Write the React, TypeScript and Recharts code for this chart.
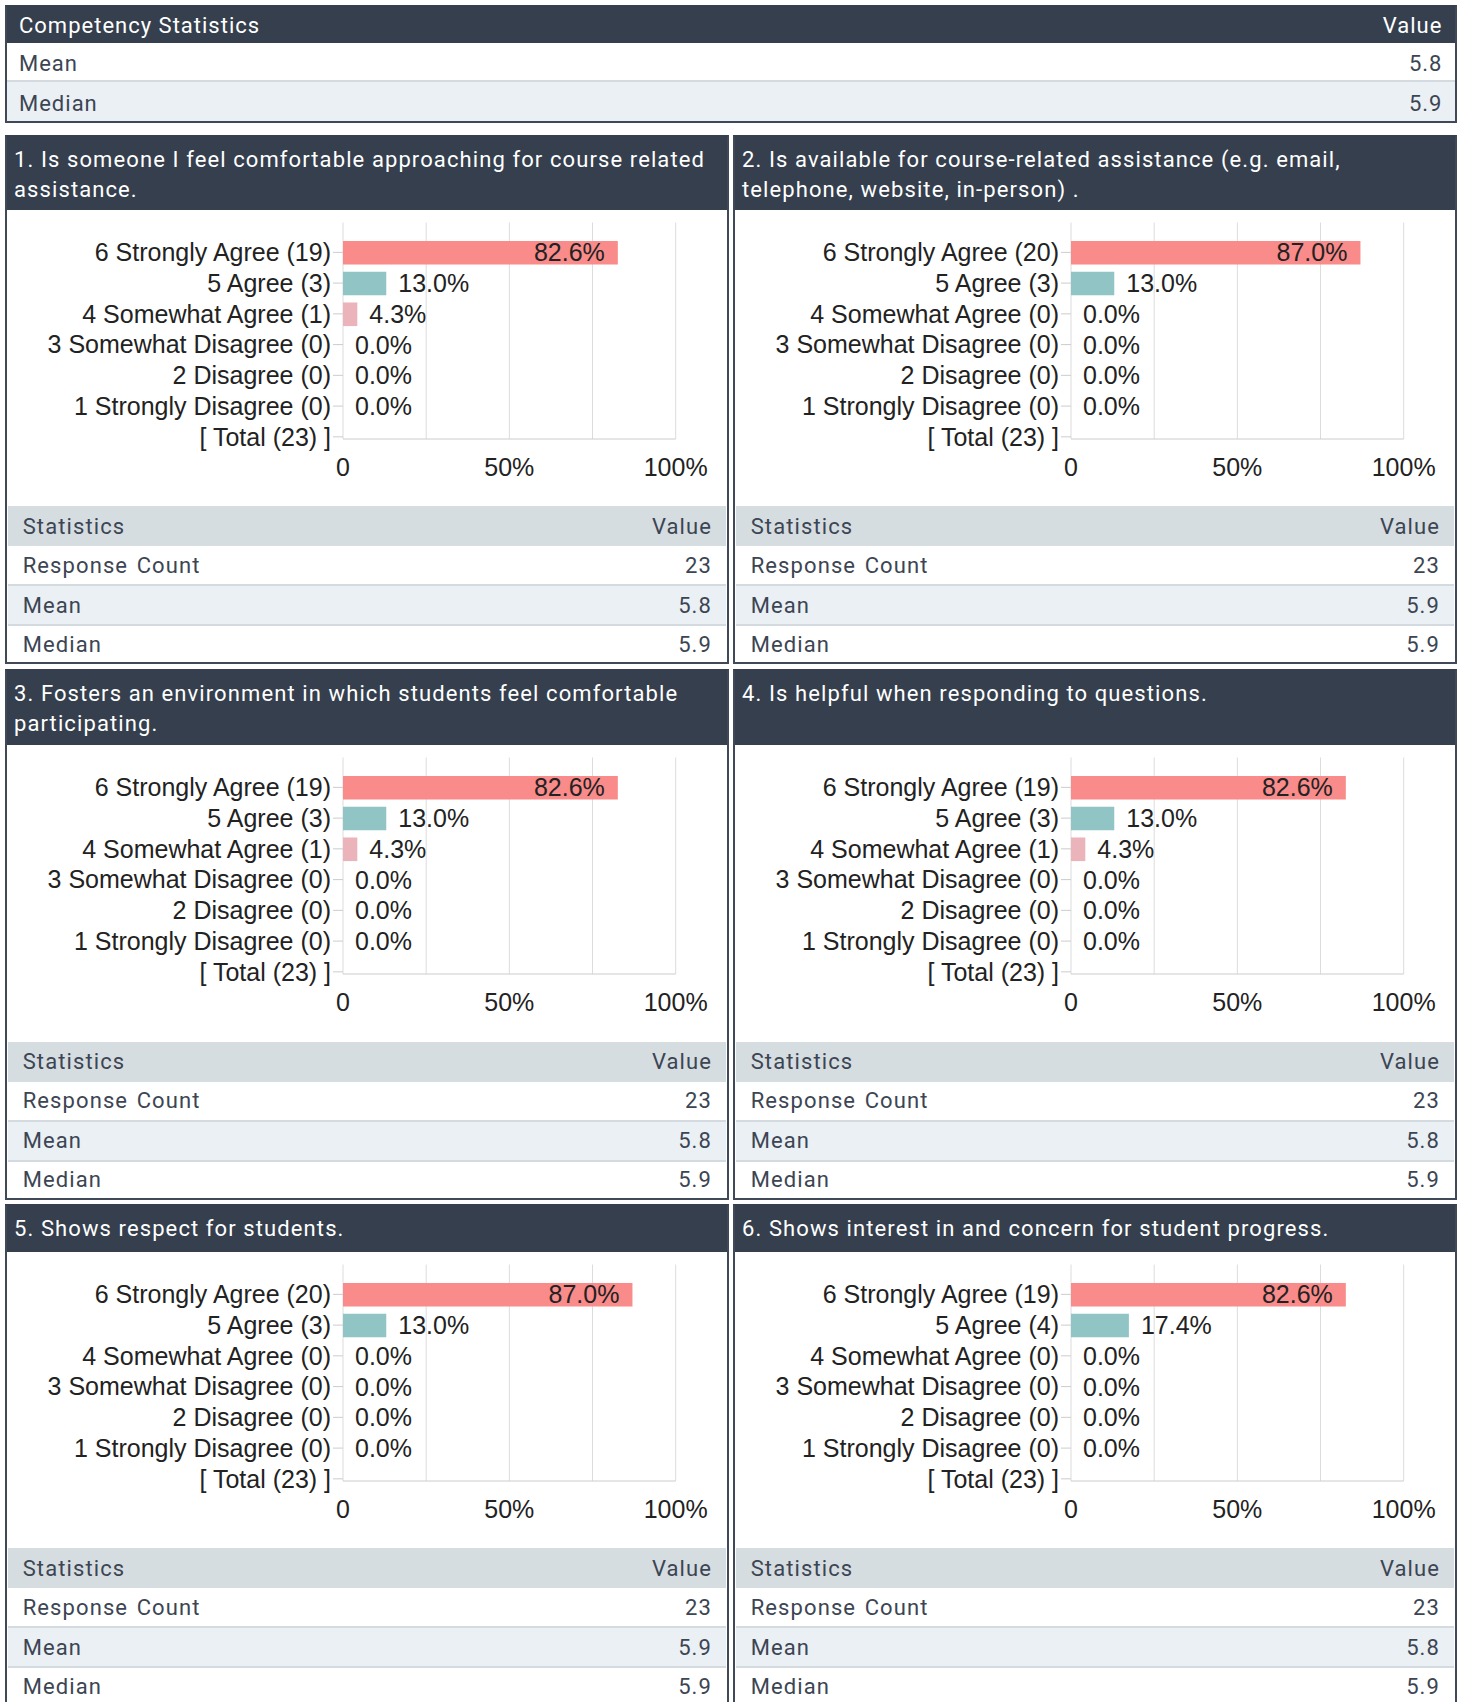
import React from 'react';
import { BarChart, Bar, XAxis, YAxis, CartesianGrid, Cell, LabelList } from 'recharts';

// ---------- data ----------
const ratingNames = [
  '6 Strongly Agree',
  '5 Agree',
  '4 Somewhat Agree',
  '3 Somewhat Disagree',
  '2 Disagree',
  '1 Strongly Disagree',
];
const totalResponses = 23;

const questionTitles = [
  '1. Is someone I feel comfortable approaching for course related assistance.',
  '2. Is available for course-related assistance (e.g. email, telephone, website, in-person) .',
  '3. Fosters an environment in which students feel comfortable participating.',
  '4. Is helpful when responding to questions.',
  '5. Shows respect for students.',
  '6. Shows interest in and concern for student progress.',
];

const q1Counts = [19, 3, 1, 0, 0, 0];
const q1Pct = [82.6, 13.0, 4.3, 0, 0, 0];
const q2Counts = [20, 3, 0, 0, 0, 0];
const q2Pct = [87.0, 13.0, 0, 0, 0, 0];
const q3Counts = [19, 3, 1, 0, 0, 0];
const q3Pct = [82.6, 13.0, 4.3, 0, 0, 0];
const q4Counts = [19, 3, 1, 0, 0, 0];
const q4Pct = [82.6, 13.0, 4.3, 0, 0, 0];
const q5Counts = [20, 3, 0, 0, 0, 0];
const q5Pct = [87.0, 13.0, 0, 0, 0, 0];
const q6Counts = [19, 4, 0, 0, 0, 0];
const q6Pct = [82.6, 17.4, 0, 0, 0, 0];

const statsLabels = ['Response Count', 'Mean', 'Median'];
const q1Stats = ['23', '5.8', '5.9'];
const q2Stats = ['23', '5.9', '5.9'];
const q3Stats = ['23', '5.8', '5.9'];
const q4Stats = ['23', '5.8', '5.9'];
const q5Stats = ['23', '5.9', '5.9'];
const q6Stats = ['23', '5.8', '5.9'];

const overallLabels = ['Mean', 'Median'];
const overallValues = ['5.8', '5.9'];

const xTicks = [0, 25, 50, 75, 100];
const xTickLabels = ['0', '', '50%', '', '100%'];

const barColors = ['#f98b8a', '#91c4c4', '#eab4ba', '#b9a7d6', '#a9c9e8', '#f2cb8e'];

const questions = [
  { counts: q1Counts, pct: q1Pct, stats: q1Stats },
  { counts: q2Counts, pct: q2Pct, stats: q2Stats },
  { counts: q3Counts, pct: q3Pct, stats: q3Stats },
  { counts: q4Counts, pct: q4Pct, stats: q4Stats },
  { counts: q5Counts, pct: q5Pct, stats: q5Stats },
  { counts: q6Counts, pct: q6Pct, stats: q6Stats },
];

// ---------- styles ----------
const DARK = '#353f4e';
const BORDER = '#3f4957';
const TEXT = '#3c4553';
const HEAD_BG = '#d6dde1';
const ALT_BG = '#ebf0f4';
const SEP = '#d3dae0';
const TABLE_FONT = 'Roboto, "Liberation Sans", Arial, sans-serif';
const CHART_FONT = '"Liberation Sans", Arial, sans-serif';
const CHART_FS = 25;

const textStyle: React.CSSProperties = {
  fontFamily: TABLE_FONT,
  fontSize: 22,
  letterSpacing: 1,
  color: TEXT,
};

function buildRows(counts: number[], pct: number[]) {
  const rows: { label: string; pct: number | null }[] = ratingNames.map((n, i) => ({
    label: `${n} (${counts[i]})`,
    pct: pct[i],
  }));
  rows.push({ label: `[ Total (${totalResponses}) ]`, pct: null });
  return rows;
}

const renderValueLabel = (props: any) => {
  const vb = props.viewBox && props.viewBox.width !== undefined ? props.viewBox : props;
  const { x, y, width, height } = vb;
  const value = props.value;
  if (value === null || value === undefined || x === undefined) return null;
  const inside = width > 150;
  const tx = inside ? x + width - 13 : x + width + 12;
  return (
    <text
      x={tx}
      y={y + height / 2}
      dy="0.34em"
      textAnchor={inside ? 'end' : 'start'}
      fontSize={CHART_FS}
      fontFamily={CHART_FONT}
      fill="#222"
    >
      {Number(value).toFixed(1)}%
    </text>
  );
};

function QuestionChart({ counts, pct }: { counts: number[]; pct: number[] }) {
  const data = buildRows(counts, pct);
  return (
    <BarChart
      width={720}
      height={296.5}
      data={data}
      layout="vertical"
      margin={{ top: 12.5, right: 51.3, left: 0, bottom: 27.5 }}
      style={{ fontFamily: CHART_FONT }}
    >
      <CartesianGrid vertical horizontal={false} stroke="#dcdcdc" />
      <XAxis
        type="number"
        domain={[0, 100]}
        ticks={xTicks}
        interval={0}
        tickFormatter={(v: number) => xTickLabels[xTicks.indexOf(v)] ?? ''}
        axisLine={{ stroke: '#cccccc' }}
        tickLine={false}
        tickSize={14}
        tickMargin={5}
        height={40}
        tick={{ fontSize: CHART_FS, fill: '#222', fontFamily: CHART_FONT }}
      />
      <YAxis
        type="category"
        dataKey="label"
        width={336}
        interval={0}
        axisLine={false}
        tickLine={{ stroke: '#cccccc' }}
        tickSize={10}
        tickMargin={2}
        padding={{ top: 14.5, bottom: -13.2 }}
        tick={{ fontSize: CHART_FS, fill: '#222', fontFamily: CHART_FONT }}
      />
      <Bar dataKey="pct" barSize={23.6} minPointSize={0.01} isAnimationActive={false}>
        {data.map((_, i) => (
          <Cell key={i} fill={barColors[i % barColors.length]} />
        ))}
        <LabelList dataKey="pct" content={renderValueLabel} />
      </Bar>
    </BarChart>
  );
}

function StatsTable({ values }: { values: string[] }) {
  const rowBase: React.CSSProperties = {
    display: 'flex',
    alignItems: 'center',
    justifyContent: 'space-between',
    padding: '0 14px 0 14.7px',
    boxSizing: 'border-box',
    wordSpacing: 2,
  };
  const heights = [40, 40, 36.3];
  return (
    <div style={{ padding: '0 1px', ...textStyle, letterSpacing: 1.1 }}>
      <div style={{ ...rowBase, height: 40, background: HEAD_BG }}>
        <span>Statistics</span>
        <span>Value</span>
      </div>
      {statsLabels.map((lab, i) => (
        <div
          key={lab}
          style={{
            ...rowBase,
            height: heights[i],
            background: i === 1 ? ALT_BG : '#ffffff',
            borderBottom: i < statsLabels.length - 1 ? `2px solid ${SEP}` : 'none',
          }}
        >
          <span>{lab}</span>
          <span>{values[i]}</span>
        </div>
      ))}
    </div>
  );
}

function Panel({ idx, left, top, headerH }: { idx: number; left: number; top: number; headerH: number }) {
  const q = questions[idx];
  return (
    <div
      style={{
        position: 'absolute',
        left,
        top,
        width: 724,
        border: `2px solid ${BORDER}`,
        borderTopColor: DARK,
        boxSizing: 'border-box',
        background: '#fff',
      }}
    >
      <div
        style={{
          height: headerH,
          background: DARK,
          color: '#fff',
          fontFamily: TABLE_FONT,
          fontSize: 22,
          letterSpacing: 1.1,
          lineHeight: '30.5px',
          padding: '7.5px 7px 0 7px',
          boxSizing: 'border-box',
          overflow: 'hidden',
        }}
      >
        {questionTitles[idx]}
      </div>
      <div style={{ height: 296.5 }}>
        <QuestionChart counts={q.counts} pct={q.pct} />
      </div>
      <StatsTable values={q.stats} />
    </div>
  );
}

function TopTable() {
  const rowBase: React.CSSProperties = {
    display: 'flex',
    alignItems: 'center',
    justifyContent: 'space-between',
    padding: '0 12.6px 0 12px',
    boxSizing: 'border-box',
  };
  return (
    <div
      style={{
        position: 'absolute',
        left: 5,
        top: 5,
        width: 1452,
        border: `2px solid ${BORDER}`,
        borderTopColor: DARK,
        boxSizing: 'border-box',
        ...textStyle,
      }}
    >
      <div style={{ ...rowBase, height: 36.2, background: DARK, color: '#fff' }}>
        <span>Competency Statistics</span>
        <span>Value</span>
      </div>
      {overallLabels.map((lab, i) => (
        <div
          key={lab}
          style={{
            ...rowBase,
            paddingTop: 3,
            height: i === 0 ? 39.3 : 38.5,
            background: i === 1 ? ALT_BG : '#fff',
            borderBottom: i === 0 ? `2.5px solid ${SEP}` : 'none',
          }}
        >
          <span>{lab}</span>
          <span>{overallValues[i]}</span>
        </div>
      ))}
    </div>
  );
}

export default function App() {
  const rowTops = [135, 669, 1204];
  const headerHs = [72.5, 74, 45.7];
  return (
    <div
      style={{
        position: 'absolute',
        left: 0,
        top: 0,
        width: 1463,
        height: 1702,
        overflow: 'hidden',
        background: '#ffffff',
      }}
    >
      <TopTable />
      {questions.map((_, i) => {
        const row = Math.floor(i / 2);
        const col = i % 2;
        return (
          <Panel
            key={i}
            idx={i}
            left={col === 0 ? 5 : 733}
            top={rowTops[row]}
            headerH={headerHs[row]}
          />
        );
      })}
    </div>
  );
}
